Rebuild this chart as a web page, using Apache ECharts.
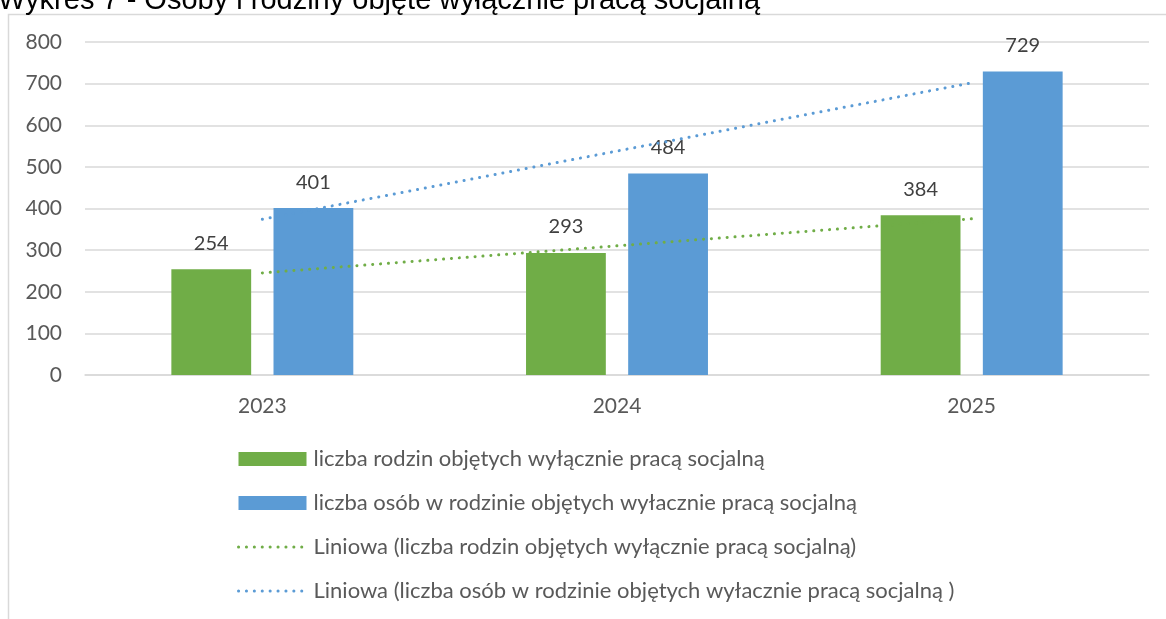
<!DOCTYPE html>
<html>
<head>
<meta charset="utf-8">
<script src="https://cdn.jsdelivr.net/npm/echarts@6/dist/echarts.min.js"></script>
<style>
  html, body { margin: 0; padding: 0; background: #fff; }
  #chart { width: 1166px; height: 619px; }
</style>
</head>
<body>
<div id="chart"></div>
<script>
var years = ['2023', '2024', '2025'];
var rodziny = [254, 293, 384];
var osoby = [401, 484, 729];
// linie trendu (Excel "Liniowa")
var trendRodziny = [245.3, 310.3, 375.3];
var trendOsoby = [374, 538, 702];
var yTicks = [0, 100, 200, 300, 400, 500, 600, 700, 800];

var nameRodziny = 'liczba rodzin objętych wyłącznie pracą socjalną';
var nameOsoby = 'liczba osób w rodzinie objętych wyłacznie pracą socjalną';
var nameTrendR = 'Liniowa (liczba rodzin objętych wyłącznie pracą socjalną)';
var nameTrendO = 'Liniowa (liczba osób w rodzinie objętych wyłacznie pracą socjalną )';

var font = 'Lato, "Open Sans", sans-serif';
var myChart = echarts.init(document.getElementById('chart'));

var dotted = function (color) {
    return {
        color: color,
        width: 3,
        type: [0.1, 7.8],
        cap: 'round'
    };
};

var option = {
    animation: false,
    textStyle: { fontFamily: font },
    graphic: [{
        type: 'rect',
        left: 6,
        top: 12,
        shape: { width: 1200, height: 700 },
        style: { fill: 'none', stroke: '#d9d9d9', lineWidth: 1.5 },
        z: -1
    }, {
        type: 'text',
        left: -2,
        top: -14,
        style: {
            text: 'Wykres 7 - Osoby i rodziny objęte wyłącznie pracą socjalną',
            font: '29px "Liberation Sans", Arial, sans-serif',
            fill: '#000'
        }
    }],
    grid: {
        left: 85,
        right: 17,
        top: 42,
        height: 333
    },
    legend: {
        orient: 'vertical',
        left: 237,
        top: 448,
        padding: 0,
        itemWidth: 68,
        itemHeight: 14,
        itemGap: 22,
        textStyle: { fontSize: 22, lineHeight: 22, color: '#595959', fontFamily: font, padding: [0, 0, 0, 2] },
        data: [
            { name: nameRodziny, icon: 'rect' },
            { name: nameOsoby, icon: 'rect' },
            { name: nameTrendR, itemStyle: { color: 'rgba(0,0,0,0)', borderWidth: 0 }, lineStyle: dotted('#70ad47') },
            { name: nameTrendO, itemStyle: { color: 'rgba(0,0,0,0)', borderWidth: 0 }, lineStyle: dotted('#5b9bd5') }
        ]
    },
    xAxis: {
        type: 'category',
        data: years,
        axisTick: { show: false },
        axisLine: { lineStyle: { color: '#d9d9d9', width: 1.5 } },
        axisLabel: { fontSize: 21, color: '#595959', margin: 21 }
    },
    yAxis: {
        type: 'value',
        min: yTicks[0],
        max: yTicks[yTicks.length - 1],
        interval: 100,
        axisLine: { show: false },
        axisTick: { show: false },
        splitLine: { lineStyle: { color: '#d9d9d9', width: 1.5 } },
        axisLabel: { fontSize: 21, color: '#595959', margin: 23 }
    },
    series: [{
        name: nameRodziny,
        type: 'bar',
        data: rodziny,
        barWidth: '22.5%',
        barGap: '28%',
        itemStyle: { color: '#70ad47' },
        label: { show: true, position: 'top', distance: 16, fontSize: 20, color: '#404040' }
    }, {
        name: nameOsoby,
        type: 'bar',
        data: osoby,
        barWidth: '22.5%',
        itemStyle: { color: '#5b9bd5' },
        label: { show: true, position: 'top', distance: 16, fontSize: 20, color: '#404040' }
    }, {
        name: nameTrendR,
        type: 'line',
        data: trendRodziny,
        symbol: 'none',
        itemStyle: { color: '#70ad47' },
        lineStyle: dotted('#70ad47'),
        z: 5
    }, {
        name: nameTrendO,
        type: 'line',
        data: trendOsoby,
        symbol: 'none',
        itemStyle: { color: '#5b9bd5' },
        lineStyle: dotted('#5b9bd5'),
        z: 5
    }]
};

myChart.setOption(option);
</script>
</body>
</html>
